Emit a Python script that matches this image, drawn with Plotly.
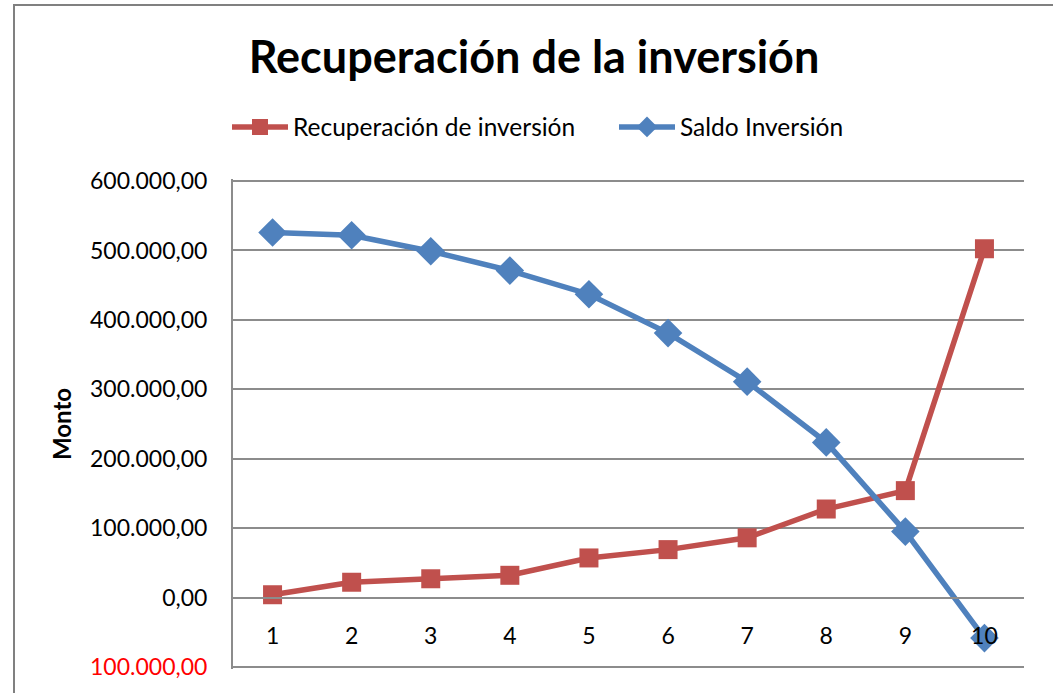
import plotly.graph_objects as go

periodos = [1, 2, 3, 4, 5, 6, 7, 8, 9, 10]
recuperacion = [4000, 22000, 27000, 32000, 57000, 69000, 86000, 127500, 154000, 502500]
saldo = [526000, 522000, 499000, 471000, 437000, 381000, 311000, 223500, 95000, -58500]

y_tickvals = [600000, 500000, 400000, 300000, 200000, 100000, 0, -100000]
y_ticktext = ["600.000,00", "500.000,00", "400.000,00", "300.000,00", "200.000,00",
              "100.000,00", "0,00", '<span style="color:#FF0000">100.000,00</span>']

RED = "#C0504D"
BLUE = "#4F81BD"
GRID = "#8C8C8C"
FONT = "Lato"

fig = go.Figure()
fig.add_trace(go.Scatter(
    x=periodos, y=recuperacion, name="Recuperación de inversión",
    mode="lines+markers",
    line=dict(color=RED, width=5.5),
    marker=dict(symbol="square", size=19, color=RED),
))
fig.add_trace(go.Scatter(
    x=periodos, y=saldo, name="Saldo Inversión",
    mode="lines+markers",
    line=dict(color=BLUE, width=5.5),
    marker=dict(symbol="diamond", size=22, color=BLUE),
))

L, R, T, B = 233, 29, 179, 24
W, H = 1053, 693
pw, ph = W - L - R, H - T - B
YMIN, YMAX = -103000, 603000

fig.update_layout(
    width=W, height=H,
    margin=dict(l=L, r=R, t=T, b=B),
    paper_bgcolor="white", plot_bgcolor="white",
    font=dict(family=FONT, size=23, color="black"),
    title=dict(text="<b>Recuperación de la inversión</b>",
               x=534 / W, xanchor="center", y=1 - 57 / H, yanchor="middle",
               font=dict(family=FONT, size=45, color="black")),
    legend=dict(orientation="h", x=(227 - L) / pw, xanchor="left",
                y=(H - B - 127) / ph, yanchor="middle",
                font=dict(family=FONT, size=24.5), itemwidth=56,
                entrywidth=316,
                traceorder="normal", bgcolor="rgba(0,0,0,0)"),
    showlegend=True,
)

fig.update_yaxes(
    range=[YMIN, YMAX],
    tickvals=y_tickvals, ticktext=y_ticktext,
    showgrid=True, gridcolor=GRID, gridwidth=1.5,
    showline=True, linecolor=GRID, linewidth=2,
    zeroline=False,
    ticks="", ticklabelstandoff=19,
    tickfont=dict(family=FONT, size=23, color="black"),
    title=dict(text="<b>Monto</b>", standoff=12,
               font=dict(family=FONT, size=24, color="black")),
)
fig.update_xaxes(
    range=[0.5, 10.5],
    tickvals=periodos, ticktext=[str(p) for p in periodos],
    showgrid=False, zeroline=False,
    showline=True, linecolor=GRID, linewidth=2,
    anchor="free", position=-YMIN / (YMAX - YMIN),
    ticks="", ticklabelstandoff=18,
    tickfont=dict(family=FONT, size=23, color="black"),
)

# outer chart border (partially cropped in reference)
fig.add_shape(type="rect", xref="paper", yref="paper",
              x0=(14 - L) / pw, x1=(1100 - L) / pw,
              y0=(H - B - 760) / ph, y1=(H - B - 5) / ph,
              line=dict(color="#808080", width=2), fillcolor="rgba(0,0,0,0)",
              layer="below")

fig.write_html("out.html", config={"displayModeBar": False},
               post_script="document.body.style.margin='0px';")
